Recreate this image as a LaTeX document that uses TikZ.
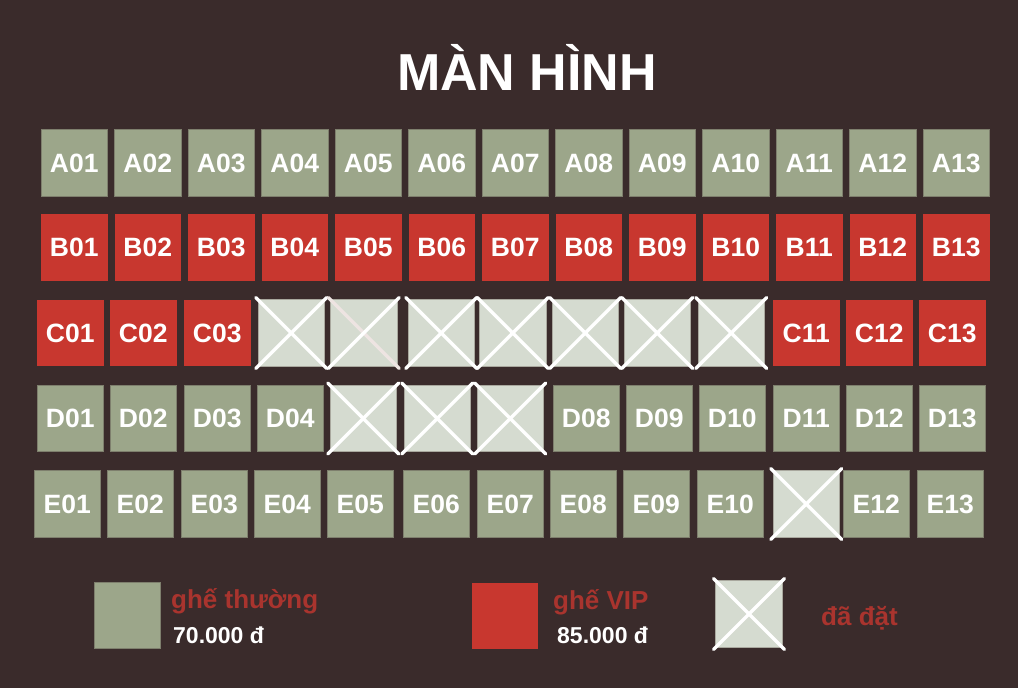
\documentclass[tikz,border=0pt]{standalone}
\usepackage{fontspec}
\setmainfont{Liberation Sans}
\definecolor{bg}{HTML}{3A2B2B}
\definecolor{seatg}{HTML}{9CA68A}
\definecolor{seatgb}{HTML}{7E7F6D}
\definecolor{seatr}{HTML}{C8372F}
\definecolor{seatx}{HTML}{D5DBD0}
\definecolor{seatxb}{HTML}{A9A89E}
\definecolor{lblred}{HTML}{A9342E}
\definecolor{palex}{HTML}{EEE4E2}
\begin{document}
\begin{tikzpicture}[x=1pt,y=-1pt,
  seat/.style={minimum size=66.5pt, inner sep=0pt, text=white,
    font=\fontsize{26.5}{26.5}\selectfont\bfseries},
  normal/.style={seat, fill=seatg, draw=seatgb, line width=0.8pt},
  vip/.style={seat, fill=seatr},
  taken/.style={seat, fill=seatx, draw=seatxb, line width=0.8pt},
  crossline/.style={draw=white, line width=3.5pt, line cap=round,
    shorten <=-2.5pt, shorten >=-2.5pt},
  paleline/.style={crossline, draw=palex},
  redtext/.style={anchor=base west, inner sep=0pt, text=lblred,
    font=\fontsize{26}{26}\selectfont\bfseries},
  pricetext/.style={anchor=base west, inner sep=0pt, text=white,
    font=\fontsize{23}{23}\selectfont\bfseries}]
\fill[bg] (0,0) rectangle (1018,688);
\useasboundingbox (0,0) rectangle (1018,688);

\node[anchor=base, inner sep=0pt, text=white,
  font=\fontsize{52}{52}\selectfont\bfseries] (title) at (527,90) {MÀN HÌNH};

% Row A and B
\foreach \n [count=\i from 0] in {01,02,03,04,05,06,07,08,09,10,11,12,13} {
  \node[normal] (A\n) at ({41+73.5*\i+33.25},163) {A\n};
  \node[vip] (B\n) at ({41+73.5*\i+33.25},247.5) {B\n};
}

% Row C
\foreach \x/\n/\t in {37/01/vip,110/02/vip,184/03/vip,258/04/taken,330.5/05/taken,
  408/06/taken,479.5/07/taken,552/08/taken,624/09/taken,698/10/taken,
  773/11/vip,846/12/vip,919/13/vip} {
  \node[\t] (C\n) at ({\x+33.25},333) {};
}
\foreach \n in {01,02,03,11,12,13} { \node[seat] at (C\n) {C\n}; }
\foreach \n in {04,06,07,08,09,10} {
  \draw[crossline] (C\n.north west) -- (C\n.south east);
  \draw[crossline] (C\n.north east) -- (C\n.south west);
}
\draw[paleline] (C05.north west) -- (C05.south east);
\draw[crossline] (C05.north east) -- (C05.south west);

% Row D
\foreach \x/\n/\t in {37/01/normal,110/02/normal,184/03/normal,257/04/normal,
  330/05/taken,404/06/taken,477/07/taken,553/08/normal,626/09/normal,
  699/10/normal,773/11/normal,846/12/normal,919/13/normal} {
  \node[\t] (D\n) at ({\x+33.25},418.5) {};
}
\foreach \n in {01,02,03,04,08,09,10,11,12,13} { \node[seat] at (D\n) {D\n}; }
\foreach \n in {05,06,07} {
  \draw[crossline] (D\n.north west) -- (D\n.south east);
  \draw[crossline] (D\n.north east) -- (D\n.south west);
}

% Row E
\foreach \x/\n/\t in {34/01/normal,107/02/normal,181/03/normal,254/04/normal,
  327/05/normal,403/06/normal,477/07/normal,550/08/normal,623/09/normal,
  697/10/normal,773/11/taken,843/12/normal,917/13/normal} {
  \node[\t] (E\n) at ({\x+33.25},504) {};
}
\foreach \n in {01,02,03,04,05,06,07,08,09,10,12,13} { \node[seat] at (E\n) {E\n}; }
\draw[crossline] (E11.north west) -- (E11.south east);
\draw[crossline] (E11.north east) -- (E11.south west);

% Legend
\node[normal] (lgN) at (127.5,615.5) {};
\node[redtext] (lgNt) at (171,608) {ghế thường};
\node[pricetext] (lgNp) at (173,643) {70.000 đ};

\node[vip] (lgV) at (505,616) {};
\node[redtext] (lgVt) at (553,609) {ghế VIP};
\node[pricetext] (lgVp) at (557,643) {85.000 đ};

\node[taken] (lgX) at (749,614) {};
\draw[crossline] (lgX.north west) -- (lgX.south east);
\draw[crossline] (lgX.north east) -- (lgX.south west);
\node[redtext] (lgXt) at (821,625) {đã đặt};
\end{tikzpicture}
\end{document}
